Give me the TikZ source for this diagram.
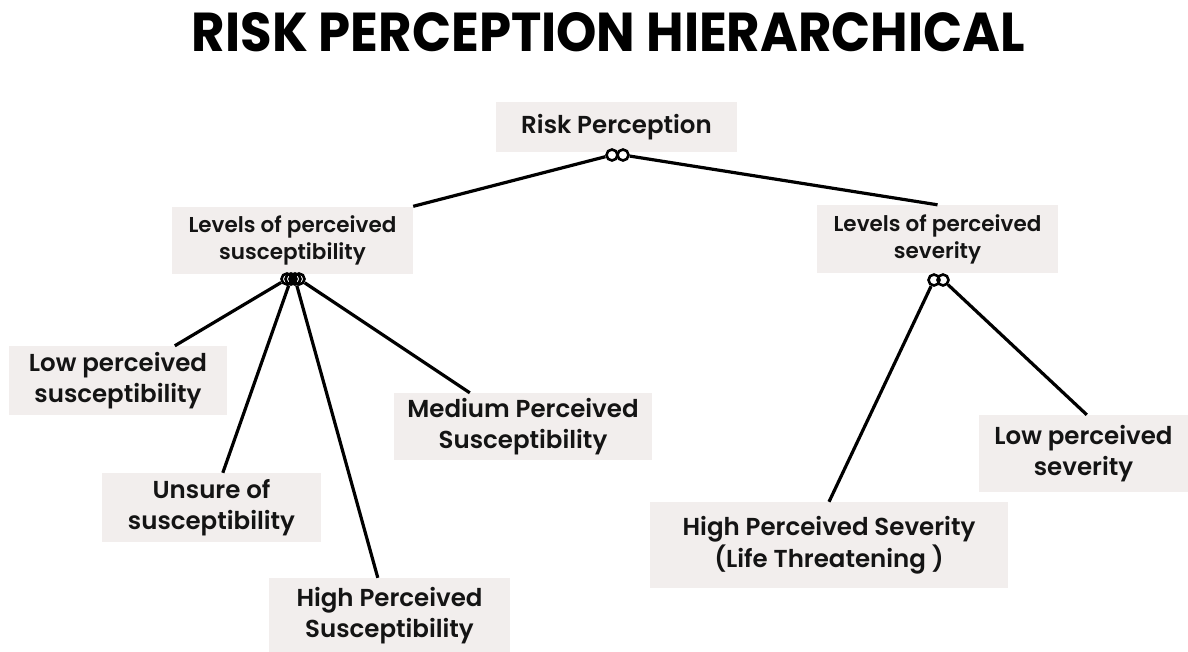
\documentclass[tikz,border=0pt]{standalone}
\usepackage{fontspec}
\setmainfont{Poppins SemiBold}
\newfontfamily\titlefont{Poppins}
\usepackage{graphicx}
\definecolor{boxfill}{RGB}{242,238,237}
\definecolor{ink}{RGB}{20,20,20}
\tikzset{
  lbox/.style={rectangle, fill=boxfill, inner sep=0pt, align=center, text=ink},
  rpfont/.style={font=\fontsize{24.5}{30}\selectfont},
  lvfont/.style={font=\fontsize{21.5}{27}\selectfont},
  lofont/.style={font=\fontsize{24.5}{31}\selectfont},
  ring/.style={circle, draw=black, line width=2.6pt, minimum size=11pt, inner sep=0pt},
  conn/.style={draw=black, line width=3.2pt}
}
\begin{document}
\begin{tikzpicture}[x=1pt,y=-1pt]
\useasboundingbox (0,0) rectangle (1188,651);
\fill[white] (0,0) rectangle (1188,651);
% title
\node[text=black] (title) at (608.5,32.5) {\resizebox{833pt}{39pt}{\titlefont\bfseries RISK PERCEPTION HIERARCHICAL}};
% boxes
\node[lbox, rpfont, minimum width=241pt, minimum height=50pt] (rp) at (616.5,127) {Risk Perception};
\node[lbox, lvfont, minimum width=241pt, minimum height=67pt] (susc) at (292.5,240) {Levels of perceived\\susceptibility};
\node[lbox, lvfont, minimum width=241pt, minimum height=68pt] (sev) at (937.5,239) {Levels of perceived\\severity};
\node[lbox, lofont, minimum width=218pt, minimum height=69pt] (low) at (118,380.5) {Low perceived\\susceptibility};
\node[lbox, lofont, minimum width=219pt, minimum height=69pt] (unsure) at (211.5,507.5) {Unsure of\\susceptibility};
\node[lbox, lofont, minimum width=241pt, minimum height=76pt] (high) at (389.5,616) {High Perceived\\Susceptibility};
\node[lbox, lofont, minimum width=258pt, minimum height=67pt] (medium) at (523,426.5) {Medium Perceived\\Susceptibility};
\node[lbox, lofont, minimum width=358pt, minimum height=86pt] (highsev) at (829,545) {\raisebox{-3pt}{\shortstack{High Perceived Severity\\[-0pt](Life Threatening )}}};
\node[lbox, lofont, minimum width=209pt, minimum height=77pt] (lowsev) at (1083.5,453.5) {Low perceived\\severity};
% rings
\node[ring] (r1) at (612,155) {};
\node[ring] (r2) at (623,155) {};
\node[ring] (s1) at (287,279) {};
\node[ring] (s2) at (291,279) {};
\node[ring] (s3) at (295,279) {};
\node[ring] (s4) at (299,279) {};
\node[ring] (v1) at (934,280) {};
\node[ring] (v2) at (943,280) {};
% connectors
\draw[conn] (r1) -- (susc.north east);
\draw[conn] (r2) -- (sev.north);
\draw[conn] (s1) -- ([xshift=166pt]low.north west);
\draw[conn] (s2) -- ([xshift=121pt]unsure.north west);
\draw[conn] (s3) -- ([xshift=109pt]high.north west);
\draw[conn] (s4) -- ([xshift=76pt]medium.north west);
\draw[conn] (v1) -- (highsev.north);
\draw[conn] (v2) -- ([xshift=108pt]lowsev.north west);
\end{tikzpicture}
\end{document}
